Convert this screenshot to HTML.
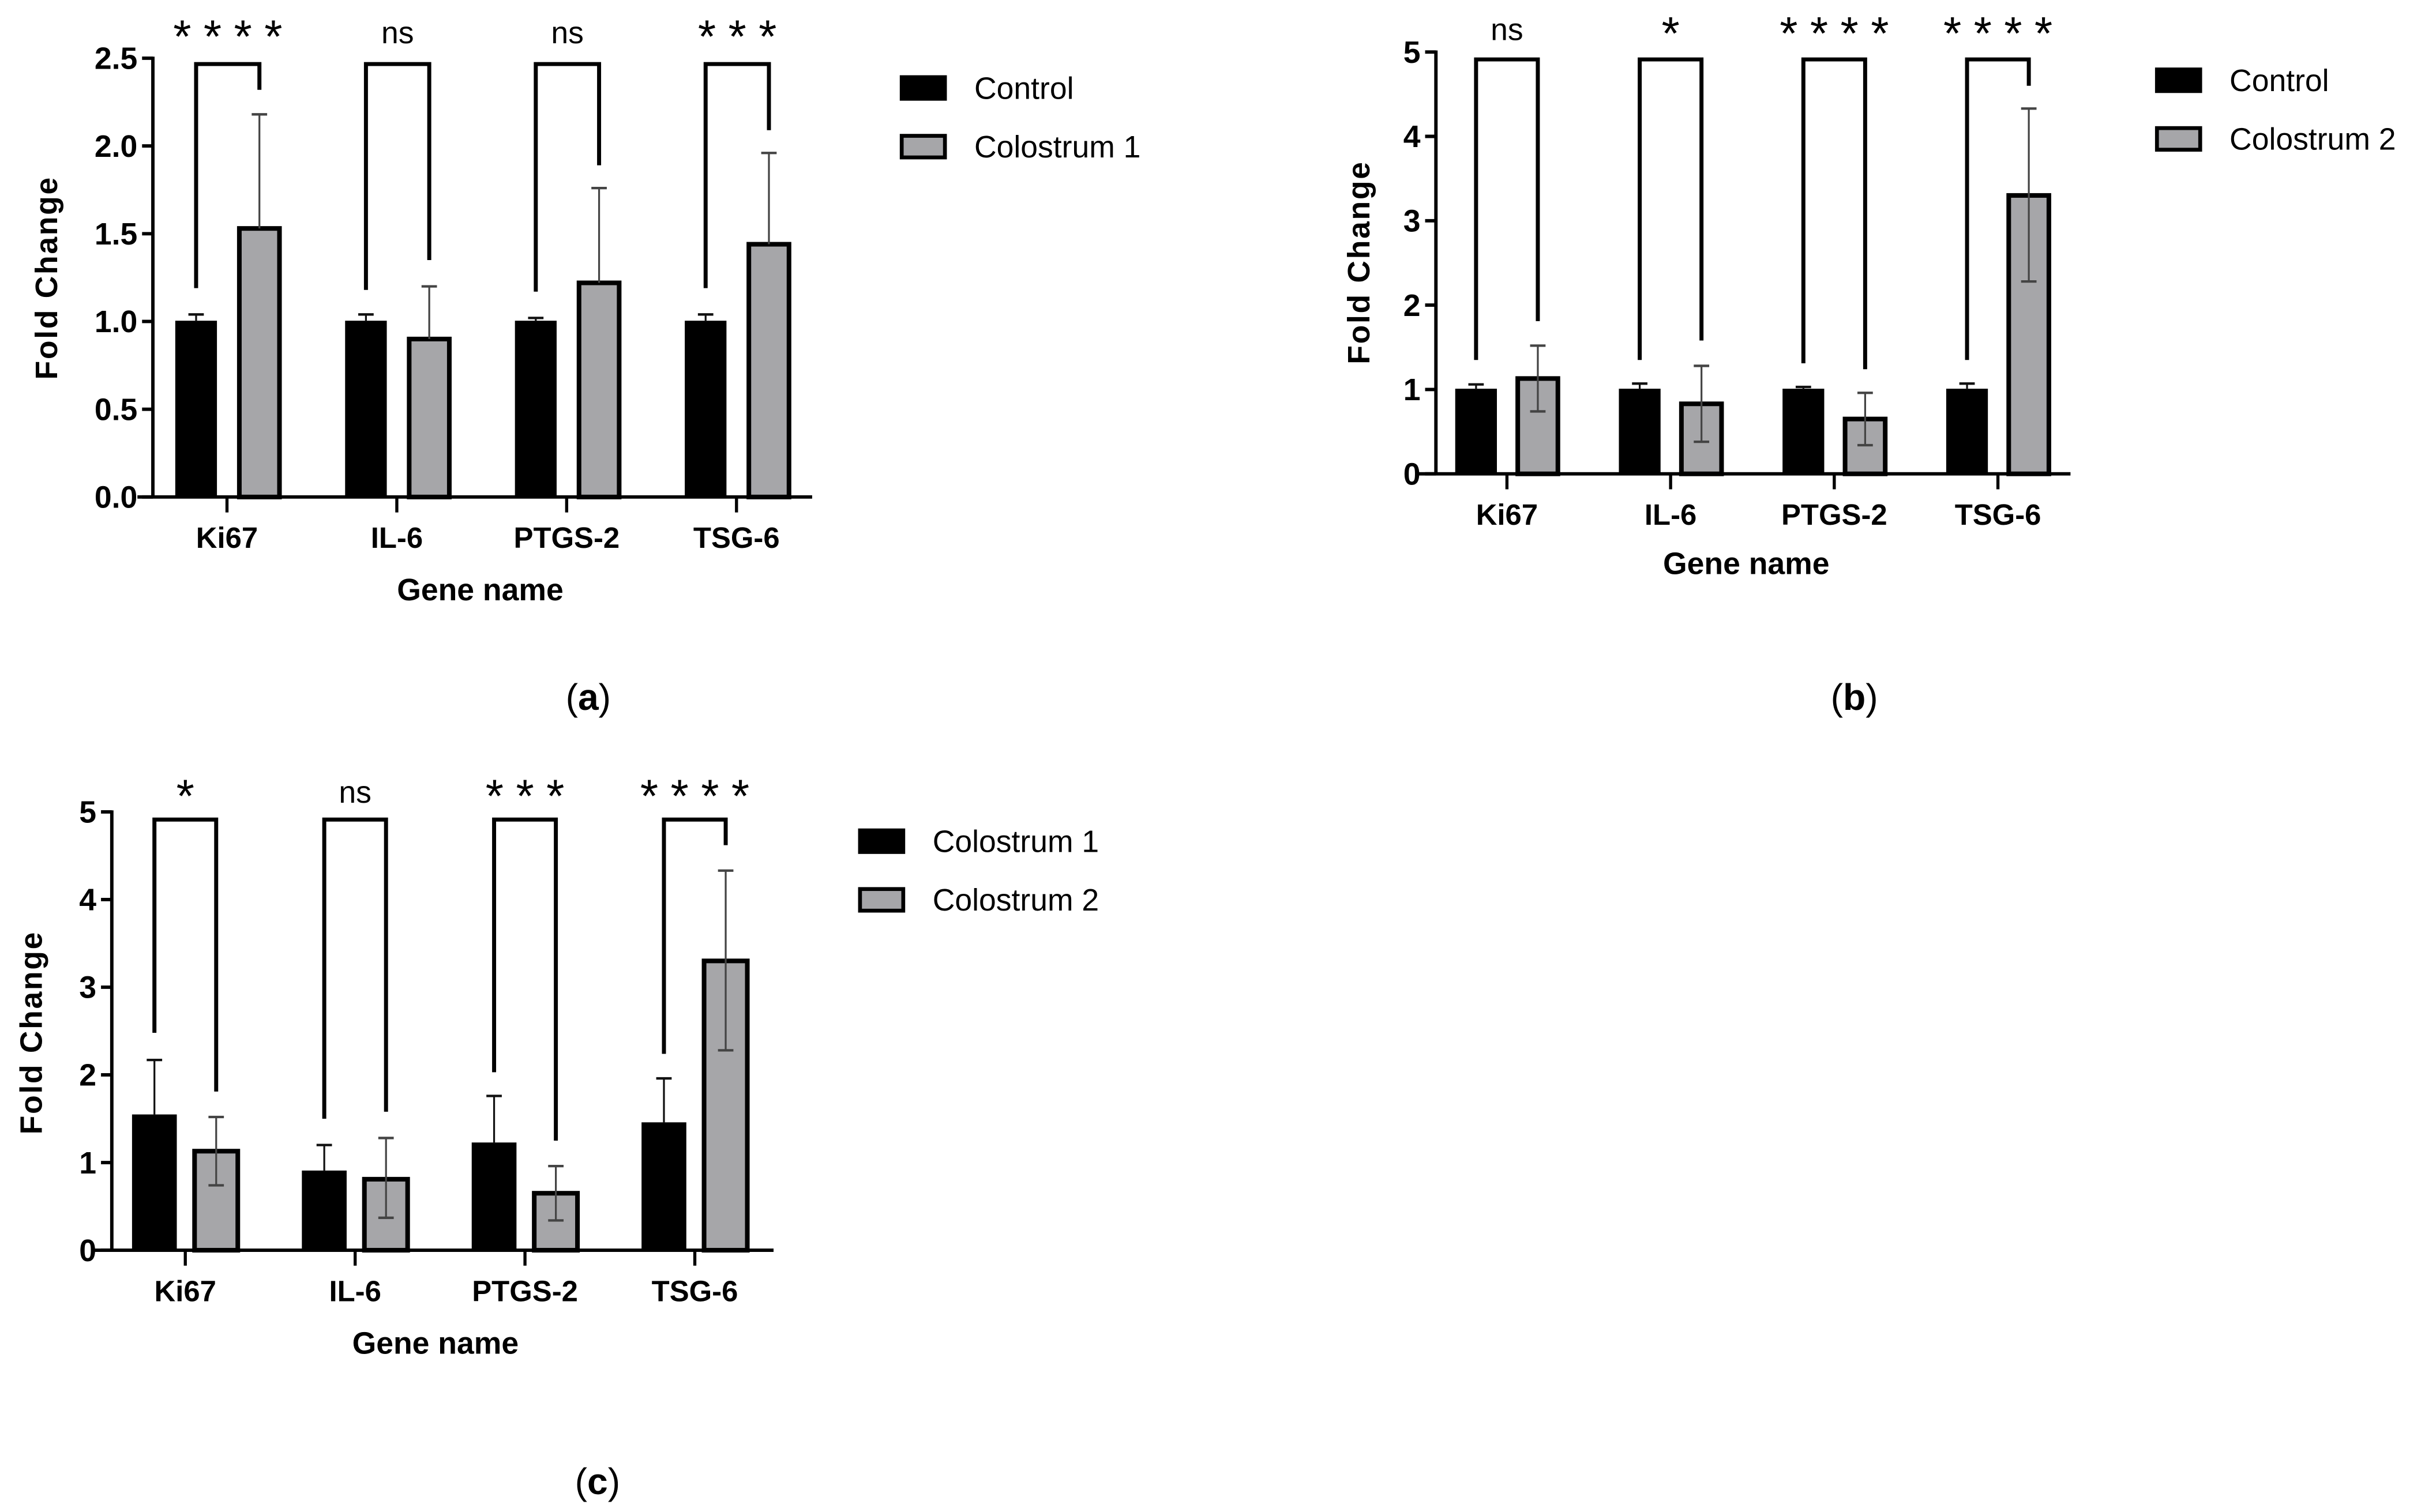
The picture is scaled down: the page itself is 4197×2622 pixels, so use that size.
<!DOCTYPE html>
<html><head><meta charset="utf-8"><style>
html,body{margin:0;padding:0;background:#fff;}
svg{display:block;}
text{font-family:"Liberation Sans",Arial,sans-serif;}
</style></head><body>
<svg id="fig" xmlns="http://www.w3.org/2000/svg" width="4197" height="2622" viewBox="0 0 1568 979.6">
<rect width="1568" height="979.6" fill="#fff"/>
<text x="381" y="460" font-family="Liberation Serif,serif" font-size="24" text-anchor="middle">(<tspan font-weight="bold">a</tspan>)</text>
<text x="1201" y="460" font-family="Liberation Serif,serif" font-size="24" text-anchor="middle">(<tspan font-weight="bold">b</tspan>)</text>
<text x="387" y="968" font-family="Liberation Serif,serif" font-size="24" text-anchor="middle">(<tspan font-weight="bold">c</tspan>)</text>
</svg>
<script>
const categories = ["Ki67","IL-6","PTGS-2","TSG-6"];
// Panel A
const aLegend = ["Control","Colostrum 1"];
const aS1 = [1.0,1.0,1.0,1.0];
const aS1Hi = [1.04,1.04,1.02,1.04];
const aS1Lo = [null,null,null,null];
const aS2 = [1.53,0.90,1.22,1.44];
const aS2Hi = [2.18,1.20,1.76,1.96];
const aS2Lo = [null,null,null,null];
const aSig = ["****","ns","ns","***"];
const aLegL = [1.19,1.18,1.17,1.19];
const aLegR = [2.32,1.35,1.89,2.09];
const aTicks = ["0.0","0.5","1.0","1.5","2.0","2.5"];
const aTickVals = [0,0.5,1,1.5,2,2.5];
// Panel B
const bLegend = ["Control","Colostrum 2"];
const bS1 = [1.0,1.0,1.0,1.0];
const bS1Hi = [1.06,1.07,1.03,1.07];
const bS1Lo = [null,null,null,null];
const bS2 = [1.13,0.83,0.65,3.30];
const bS2Hi = [1.52,1.28,0.96,4.33];
const bS2Lo = [0.74,0.38,0.34,2.28];
const bSig = ["ns","*","****","****"];
const bLegL = [1.35,1.35,1.31,1.35];
const bLegR = [1.81,1.58,1.24,4.60];
const bTicks = ["0","1","2","3","4","5"];
const bTickVals = [0,1,2,3,4,5];
// Panel C
const cLegend = ["Colostrum 1","Colostrum 2"];
const cS1 = [1.54,0.90,1.22,1.45];
const cS1Hi = [2.17,1.20,1.76,1.96];
const cS1Lo = [null,null,null,null];
const cS2 = [1.13,0.81,0.65,3.30];
const cS2Hi = [1.52,1.28,0.96,4.33];
const cS2Lo = [0.74,0.37,0.34,2.28];
const cSig = ["*","ns","***","****"];
const cLegL = [2.48,1.50,2.03,2.24];
const cLegR = [1.81,1.58,1.25,4.62];

const NS="http://www.w3.org/2000/svg";
const svg=document.getElementById('fig');
function mk(tag,attrs,parent){const e=document.createElementNS(NS,tag);for(const k in attrs)e.setAttribute(k,attrs[k]);(parent||svg).appendChild(e);return e;}

function panel(p){
  const g=mk('g',{});
  
  
  const y=v=>p.y0-(v/p.ymax)*(p.y0-p.yTop);
  const ya=mk('line',{x1:p.ax,y1:p.yTop-1,x2:p.ax,y2:p.y0,stroke:'#000','stroke-width':2.2},g);
  
  
  const xa=mk('line',{x1:p.xStart,y1:p.y0,x2:p.xEnd,y2:p.y0,stroke:'#000','stroke-width':2.2},g);
  
  
  p.tickVals.forEach((v,i)=>{
    mk('line',{x1:p.ax-7,y1:y(v),x2:p.ax,y2:y(v),stroke:'#000','stroke-width':2.2},g);
    const t=mk('text',{x:p.ax-10,y:y(v)+7,'font-size':20,'font-weight':'bold','text-anchor':'end'},g);
    t.textContent=p.ticks[i];
    
    
  });
  categories.forEach((c,i)=>{
    const gx=p.gx0+i*p.gstep;
    mk('line',{x1:gx,y1:p.y0,x2:gx,y2:p.y0+10,stroke:'#000','stroke-width':2},g);
    const t=mk('text',{x:gx,y:p.y0+33,'font-size':19,'font-weight':'bold','text-anchor':'middle'},g);
    t.textContent=c;
    
    
    const series=[[p.s1,p.s1Hi,p.s1Lo,'#000','#000',gx-p.off1],[p.s2,p.s2Hi,p.s2Lo,'#a6a6a9','#000',gx+p.off2]];
    series.forEach((s,k)=>{
      const cx=s[5], w=p.bw, top=y(s[0][i]);
      const r=mk('rect',{x:cx-w/2,y:top,width:w,height:p.y0-top,fill:s[3],stroke:s[4],'stroke-width':k? 3:1},g);
      
      
      const hi=s[1][i], lo=s[2][i];
      const ec=k?'#444':'#111';
      const ybot= lo==null? top : y(lo);
      mk('line',{x1:cx,y1:y(hi),x2:cx,y2:ybot,stroke:ec,'stroke-width':1.2},g);
      mk('line',{x1:cx-5,y1:y(hi),x2:cx+5,y2:y(hi),stroke:ec,'stroke-width':1.6},g);
      if(lo!=null) mk('line',{x1:cx-5,y1:y(lo),x2:cx+5,y2:y(lo),stroke:ec,'stroke-width':1.6},g);
    });
    const lx=gx-p.off1, rx=gx+p.off2, by=p.brTop;
    const br=mk('polyline',{points:`${lx},${y(p.legL[i])} ${lx},${by} ${rx},${by} ${rx},${y(p.legR[i])}`,fill:'none',stroke:'#000','stroke-width':2.6},g);
    
    
    const isNs=p.sig[i]==='ns';
    const st=mk('text',{x:(lx+rx)/2+(isNs?0:4),y:p.sigY+(isNs?0:6),'font-size':isNs?20:30,'text-anchor':'middle','letter-spacing':isNs?0:8},g);
    st.textContent=p.sig[i];
    
    
  });
  const yt=mk('text',{x:0,y:0,'font-size':20,'font-weight':'bold','text-anchor':'middle',transform:`translate(${p.ytX},${p.ytY}) rotate(-90)`,'letter-spacing':1},g);
  yt.textContent='Fold Change';
  
  
  const xt=mk('text',{x:p.xtX,y:p.xtY,'font-size':20,'font-weight':'bold','text-anchor':'middle'},g);
  xt.textContent='Gene name';
  
  
  p.legend.forEach((l,k)=>{
    const ly=p.legY+k*p.legStep;
    const r=mk('rect',{x:p.legX,y:ly,width:28,height:14,fill:k?'#a6a6a9':'#000',stroke:'#000','stroke-width':2.5},g);
    
    
    const t=mk('text',{x:p.legX+47,y:ly+14,'font-size':20},g);
    t.textContent=l;
    
    
  });
}

panel({name:'chart-a',ax:99,xStart:89,xEnd:526,y0:322,yTop:37.7,ymax:2.5,gx0:147,gstep:110,off1:20,off2:21,bw:26,
  s1:aS1,s1Hi:aS1Hi,s1Lo:aS1Lo,s2:aS2,s2Hi:aS2Hi,s2Lo:aS2Lo,sig:aSig,legL:aLegL,legR:aLegR,brTop:41.5,sigY:28,
  ticks:aTicks,tickVals:aTickVals,ytX:37,ytY:180,xtX:311,xtY:389,legend:aLegend,legX:584,legY:50,legStep:38});
panel({name:'chart-b',ax:930,xStart:918,xEnd:1341,y0:307,yTop:33.7,ymax:5,gx0:976,gstep:106,off1:20,off2:20,bw:26,
  s1:bS1,s1Hi:bS1Hi,s1Lo:bS1Lo,s2:bS2,s2Hi:bS2Hi,s2Lo:bS2Lo,sig:bSig,legL:bLegL,legR:bLegR,brTop:38.5,sigY:26,
  ticks:bTicks,tickVals:bTickVals,ytX:887,ytY:170,xtX:1131,xtY:372,legend:bLegend,legX:1397,legY:45,legStep:38});
panel({name:'chart-c',ax:72.4,xStart:60,xEnd:501,y0:810,yTop:526,ymax:5,gx0:120,gstep:110,off1:20,off2:20,bw:28,
  s1:cS1,s1Hi:cS1Hi,s1Lo:cS1Lo,s2:cS2,s2Hi:cS2Hi,s2Lo:cS2Lo,sig:cSig,legL:cLegL,legR:cLegR,brTop:531,sigY:520,
  ticks:bTicks,tickVals:bTickVals,ytX:27,ytY:669,xtX:282,xtY:877,legend:cLegend,legX:557,legY:538,legStep:38});
</script>
</body></html>
